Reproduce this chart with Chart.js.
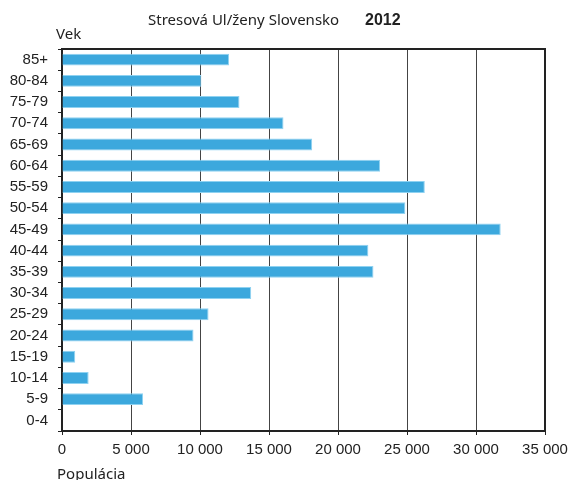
<!DOCTYPE html>
<html>
<head>
<meta charset="utf-8">
<script src="https://cdn.jsdelivr.net/npm/chart.js@4/dist/chart.umd.min.js"></script>
<style>
html,body{margin:0;padding:0;background:#fff;}
#wrap{width:570px;height:480px;position:relative;}
</style>
</head>
<body>
<div id="wrap"><canvas id="c" width="570" height="480"></canvas></div>
<script>
const categories = ['85+','80-84','75-79','70-74','65-69','60-64','55-59','50-54','45-49','40-44','35-39','30-34','25-29','20-24','15-19','10-14','5-9','0-4'];
const population = [12110,10100,12860,16050,18130,23050,26290,24880,31790,22200,22570,13710,10620,9530,960,1930,5870,0];
const xTickMin = 0;
const xTickMax = 35000;
const xTickStep = 5000;
const titleMain = 'Stresová Ul/ženy Slovensko';
const titleYear = '2012';
const yAxisTitle = 'Vek';
const xAxisTitle = 'Populácia';

const fmt = v => String(v).replace(/\B(?=(\d{3})+(?!\d))/g, ' ');

const decor = {
  id: 'decor',
  afterDraw(chart) {
    const ctx = chart.ctx, a = chart.chartArea;
    ctx.save();
    ctx.strokeStyle = '#222';
    ctx.lineWidth = 2;
    ctx.beginPath();
    ctx.moveTo(a.left, a.top);
    ctx.lineTo(a.right, a.top);
    ctx.lineTo(a.right, a.bottom);
    ctx.stroke();
    ctx.fillStyle = '#222';
    ctx.textBaseline = 'alphabetic';
    ctx.textAlign = 'left';
    ctx.font = '15px "Noto Sans"';
    ctx.fillText(titleMain, 148, 25);
    ctx.font = 'bold 16px "Liberation Sans"';
    ctx.fillText(titleYear, 365, 25);
    ctx.font = '15px "Noto Sans"';
    ctx.fillText(yAxisTitle, 56, 39);
    ctx.fillText(xAxisTitle, 57, 479);
    ctx.restore();
  }
};

new Chart(document.getElementById('c'), {
  type: 'bar',
  data: {
    labels: categories,
    datasets: [{
      data: population,
      backgroundColor: '#3ca8dd',
      borderColor: '#8fd2f1',
      borderWidth: 1,
      borderSkipped: 'start',
      barPercentage: 0.56,
      categoryPercentage: 1.0
    }]
  },
  options: {
    indexAxis: 'y',
    responsive: false,
    animation: false,
    layout: { padding: { top: 49, right: 25, left: 0, bottom: 0 } },
    plugins: { legend: { display: false }, tooltip: { enabled: false }, title: { display: false } },
    scales: {
      x: {
        min: xTickMin, max: xTickMax,
        ticks: { stepSize: xTickStep, color: '#222', padding: 6, font: { family: '"Liberation Sans"', size: 15 }, callback: v => fmt(v), maxRotation: 0 },
        grid: { color: '#444', lineWidth: 1, borderDash: [1, 1], tickLength: 4, tickColor: '#222', tickBorderDash: [] },
        border: { display: true, color: '#222', width: 2, dash: [] },
        afterFit(s) { s.height = 49; s.paddingRight = 0; s.paddingLeft = 0; }
      },
      y: {
        ticks: { color: '#222', padding: 10, font: { family: '"Liberation Sans"', size: 15 } },
        grid: { drawOnChartArea: false, tickLength: 4, color: '#222', lineWidth: 1 },
        border: { display: true, color: '#222', width: 2 },
        afterFit(s) { s.width = 62; s.paddingTop = 0; s.paddingBottom = 0; }
      }
    }
  },
  plugins: [decor]
});
</script>
</body>
</html>
